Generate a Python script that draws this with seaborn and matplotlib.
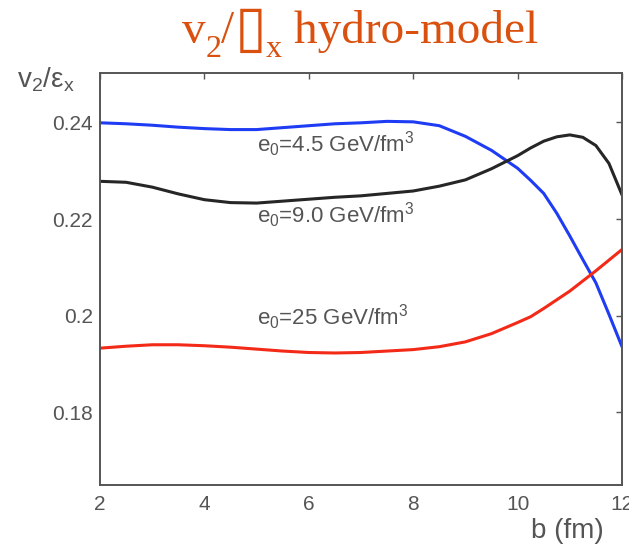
import numpy as np
import pandas as pd
import matplotlib
matplotlib.use("Agg")
import matplotlib.pyplot as plt
import matplotlib.transforms as mtransforms
import seaborn as sns

# ---------------- data ----------------
b_fm = [2.0, 2.5, 3.0, 3.5, 4.0, 4.5, 5.0, 5.5, 6.0, 6.5, 7.0, 7.5, 8.0, 8.5,
        9.0, 9.5, 10.0, 10.25, 10.5, 10.75, 11.0, 11.25, 11.5, 11.75, 12.0]
v2_e45 = [0.2399, 0.2397, 0.2394, 0.2390, 0.2387, 0.2385, 0.2385, 0.2389, 0.2393,
          0.2397, 0.2399, 0.2402, 0.2401, 0.2393, 0.2371, 0.2342, 0.2305, 0.2280,
          0.2253, 0.2212, 0.2165, 0.2116, 0.2068, 0.2003, 0.1936]
v2_e90 = [0.2278, 0.2276, 0.2266, 0.2252, 0.2240, 0.2234, 0.2233, 0.2237, 0.2241,
          0.2245, 0.2248, 0.2253, 0.2258, 0.2268, 0.2281, 0.2304, 0.2331, 0.2347,
          0.2361, 0.2370, 0.2374, 0.2369, 0.2352, 0.2315, 0.2250]
v2_e25 = [0.1933, 0.1937, 0.1940, 0.1940, 0.1938, 0.1935, 0.1931, 0.1927, 0.1924,
          0.1923, 0.1924, 0.1927, 0.1930, 0.1936, 0.1946, 0.1963, 0.1986, 0.1998,
          0.2015, 0.2033, 0.2051, 0.2072, 0.2093, 0.2115, 0.2137]
series_names = ["e0=4.5", "e0=9.0", "e0=25"]
annotation_texts = [r"e$_\mathregular{0}$=4.5 GeV/fm$^\mathregular{3}$",
                    r"e$_\mathregular{0}$=9.0 GeV/fm$^\mathregular{3}$",
                    r"e$_\mathregular{0}$=25 GeV/fm$^\mathregular{3}$"]
x_ticks = [2, 4, 6, 8, 10, 12]
y_ticks = [0.18, 0.2, 0.22, 0.24]
y_tick_labels = ["0.18", "0.2", "0.22", "0.24"]

# ---------------- style ----------------
sns.set_style("white")
plt.rcParams['font.family'] = ['Liberation Sans', 'DejaVu Sans']
plt.rcParams['mathtext.fontset'] = 'custom'
plt.rcParams['mathtext.rm'] = 'Liberation Sans'
plt.rcParams['mathtext.it'] = 'Liberation Sans:italic'
plt.rcParams['mathtext.bf'] = 'Liberation Sans:bold'

gray = '#555555'
palette = {"e0=4.5": '#1f3cf5', "e0=9.0": '#262626', "e0=25": '#f42a18'}

fig = plt.figure(figsize=(6.29, 5.45), dpi=100)
ax = fig.add_axes([100 / 629, 1 - 485 / 545, 522 / 629, 412 / 545])

df = pd.concat([
    pd.DataFrame({"b": b_fm, "v2": v2_e45, "series": series_names[0]}),
    pd.DataFrame({"b": b_fm, "v2": v2_e90, "series": series_names[1]}),
    pd.DataFrame({"b": b_fm, "v2": v2_e25, "series": series_names[2]}),
], ignore_index=True)

sns.lineplot(data=df, x="b", y="v2", hue="series", palette=palette,
             linewidth=2.2, legend=False, ax=ax, sort=False)
for ln in ax.get_lines():
    ln.set_solid_joinstyle('round')
    ln.set_solid_capstyle('round')

ax.set_xlim(2, 12)
ax.set_ylim(0.165, 0.2502)
ax.set_xticks(x_ticks)
ax.set_xticklabels([str(t) for t in x_ticks])
ax.set_yticks(y_ticks)
ax.set_yticklabels(y_tick_labels)
ax.set_xlabel("")
ax.set_ylabel("")
ax.tick_params(axis='both', direction='in', length=4, width=1, color=gray,
               labelcolor=gray, labelsize=15, top=True, right=True)
ax.tick_params(axis='x', pad=7)
ax.tick_params(axis='y', pad=5)
for sp in ax.spines.values():
    sp.set_visible(True)
    sp.set_color(gray)
    sp.set_linewidth(1.4)

# annotations
ann_y = [0.2339, 0.2192, 0.1981]
for txt, yy in zip(annotation_texts, ann_y):
    ax.text(5.0, yy, txt, fontsize=16, color=gray, ha='left', va='baseline')

# axis labels (MATLAB style placement)
fig.text(46 / 629, 1 - 88 / 545, r"v$_\mathregular{2}$/ε$_\mathregular{x}$",
         fontsize=20, color=gray, ha='center', va='baseline')
fig.text(604 / 629, 1 - 538 / 545, "b (fm)", fontsize=20, color=gray,
         ha='right', va='baseline')

# title built piecewise (serif, orange)
title_color = '#d9500f'
title_size = 34
pieces = [("v", 0.0, 1.0, 'Liberation Serif'),
          ("2", -0.30, 0.68, 'Liberation Serif'),
          ("/", 0.0, 1.0, 'Liberation Serif'),
          ("\u25AF", -0.07, 1.22, 'DejaVu Sans'),
          ("x", -0.30, 0.68, 'Liberation Serif'),
          (" hydro-model", 0.0, 1.0, 'Liberation Serif')]
ident = mtransforms.IdentityTransform()
fig.canvas.draw()
renderer = fig.canvas.get_renderer()
objs = []
total = 0.0
for s, dy, sc, fam in pieces:
    t = fig.text(0, 0, s, fontsize=title_size * sc, family=fam, color=title_color,
                 ha='left', va='baseline', transform=ident)
    w = t.get_window_extent(renderer).width
    objs.append((t, dy, w))
    total += w
x0 = 360 - total / 2.0
base = 545 - 43
em = title_size * 100 / 72.0
for t, dy, w in objs:
    t.set_position((x0, base + dy * em))
    x0 += w

fig.savefig("out.png", dpi=100)
